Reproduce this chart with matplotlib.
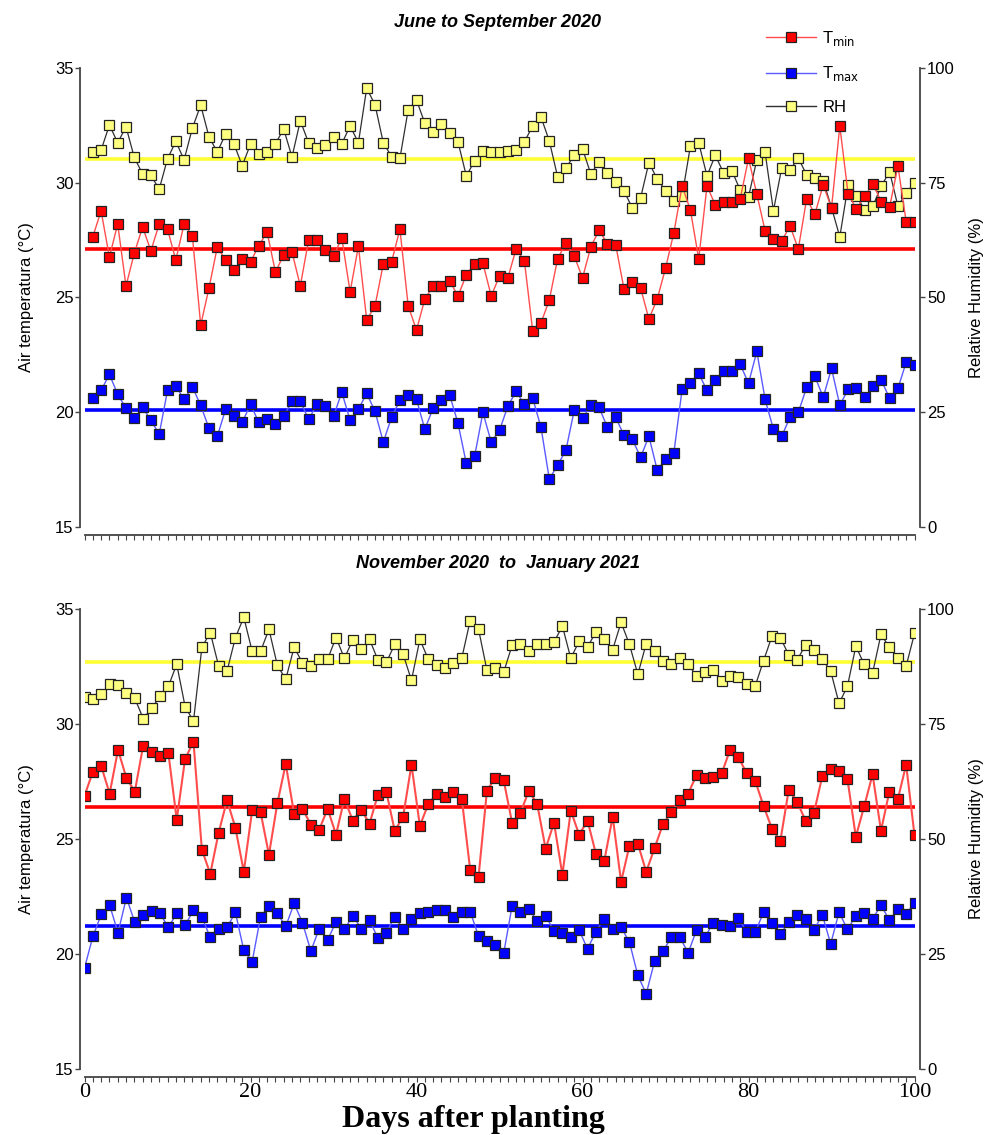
import numpy as np
import matplotlib
matplotlib.use("Agg")
import matplotlib.pyplot as plt
from matplotlib.ticker import MultipleLocator, FixedLocator
from matplotlib.lines import Line2D

# ---------------- data ----------------
# June to September 2020 (days 1..100 after planting)
days_summer = np.arange(1, 101)
tmin_summer = [
    27.65, 28.77, 26.76, 28.20, 25.50, 26.93, 28.07, 27.03, 28.20, 27.98,
    26.63, 28.20, 27.68, 23.80, 25.41, 27.20, 26.63, 26.20, 26.68, 26.55,
    27.26, 27.85, 26.11, 26.85, 26.98, 25.50, 27.50, 27.50, 27.07, 26.81,
    27.59, 25.24, 27.24, 24.02, 24.63, 26.46, 26.55, 27.98, 24.63, 23.58,
    24.93, 25.50, 25.50, 25.72, 25.06, 25.99, 26.46, 26.50, 25.06, 25.94,
    25.85, 27.11, 26.59, 23.54, 23.89, 24.89, 26.68, 27.37, 26.81, 25.85,
    27.20, 27.94, 27.33, 27.29, 25.37, 25.68, 25.41, 24.06, 24.93, 26.27,
    27.81, 29.86, 28.81, 26.68, 29.86, 29.03, 29.16, 29.16, 29.29, 31.06,
    29.51, 27.90, 27.55, 27.46, 28.12, 27.11, 29.29, 28.64, 29.90, 28.90,
    32.47, 29.51, 28.86, 29.42, 29.95, 29.16, 28.94, 30.73, 28.29, 28.29,
]
tmax_summer = [
    20.61, 20.95, 21.65, 20.78, 20.17, 19.73, 20.21, 19.65, 19.04, 20.95,
    21.14, 20.56, 21.10, 20.30, 19.30, 18.95, 20.13, 19.82, 19.56, 20.34,
    19.56, 19.69, 19.47, 19.82, 20.48, 20.48, 19.69, 20.34, 20.26, 19.82,
    20.87, 19.65, 20.13, 20.82, 20.04, 18.70, 19.78, 20.52, 20.74, 20.56,
    19.26, 20.17, 20.52, 20.74, 19.52, 17.77, 18.08, 19.99, 18.70, 19.21,
    20.26, 20.91, 20.34, 20.61, 19.34, 17.09, 17.69, 18.34, 20.08, 19.73,
    20.30, 20.21, 19.34, 19.78, 18.99, 18.82, 18.04, 18.95, 17.48, 17.95,
    18.21, 21.00, 21.26, 21.69, 20.95, 21.39, 21.78, 21.78, 22.09, 21.26,
    22.65, 20.56, 19.26, 18.95, 19.78, 19.99, 21.08, 21.56, 20.65, 21.91,
    20.30, 21.00, 21.04, 20.65, 21.13, 21.39, 20.61, 21.04, 22.18, 22.04,
]
rh_summer = [
    81.7, 82.1, 87.6, 83.7, 87.2, 80.5, 76.9, 76.6, 73.6, 80.2,
    84.0, 80.0, 86.9, 91.9, 85.0, 81.7, 85.6, 83.5, 78.7, 83.4,
    81.3, 81.7, 83.5, 86.7, 80.6, 88.5, 83.7, 82.6, 83.2, 85.0,
    83.5, 87.4, 83.7, 95.6, 92.0, 83.7, 80.7, 80.3, 90.9, 93.0,
    88.0, 86.1, 87.8, 85.8, 83.9, 76.5, 79.7, 81.9, 81.8, 81.6,
    81.9, 82.1, 83.9, 87.4, 89.3, 84.1, 76.3, 78.2, 81.0, 82.4,
    76.9, 79.6, 77.1, 75.2, 73.2, 69.5, 71.7, 79.4, 75.8, 73.3,
    71.0, 72.1, 83.0, 83.7, 76.5, 81.0, 77.1, 77.6, 73.4, 71.9,
    80.0, 81.6, 68.9, 78.2, 77.8, 80.4, 76.7, 76.1, 75.4, 69.6,
    63.2, 74.5, 72.1, 69.1, 70.0, 74.3, 77.4, 69.9, 72.8, 74.9,
]
means_summer = {"tmin": 27.1, "tmax": 20.1, "rh": 80.2}

# November 2020 to January 2021 (100 readings spread over days 0..100)
days_winter = np.linspace(0, 100, 100)
tmin_winter = [
    26.88, 27.93, 28.16, 26.98, 28.88, 27.65, 27.06, 29.06, 28.80, 28.61,
    28.75, 25.84, 28.49, 29.23, 24.54, 23.49, 25.28, 26.69, 25.49, 23.58,
    26.26, 26.17, 24.32, 26.55, 28.27, 26.10, 26.32, 25.62, 25.41, 26.32,
    25.19, 26.75, 25.80, 26.28, 25.67, 26.93, 27.06, 25.36, 25.97, 28.23,
    25.58, 26.51, 26.97, 26.84, 27.06, 26.75, 23.67, 23.36, 27.10, 27.67,
    27.55, 25.71, 26.14, 27.10, 26.51, 24.58, 25.71, 23.45, 26.23, 25.19,
    25.80, 24.36, 24.06, 25.97, 23.14, 24.71, 24.80, 23.58, 24.61, 25.65,
    26.17, 26.71, 26.98, 27.78, 27.64, 27.69, 27.85, 28.88, 28.55, 27.85,
    27.53, 26.43, 25.45, 24.93, 27.14, 26.62, 25.80, 26.12, 27.74, 28.03,
    27.94, 27.61, 25.10, 26.43, 27.81, 25.36, 27.06, 26.72, 28.23, 25.17,
]
tmax_winter = [
    19.39, 20.77, 21.72, 22.12, 20.93, 22.45, 21.38, 21.71, 21.88, 21.77,
    21.16, 21.77, 21.26, 21.90, 21.61, 20.72, 21.11, 21.16, 21.81, 20.17,
    19.67, 21.62, 22.09, 21.77, 21.20, 22.20, 21.36, 20.13, 21.11, 20.61,
    21.40, 21.07, 21.67, 21.11, 21.48, 20.68, 20.93, 21.62, 21.09, 21.51,
    21.77, 21.85, 21.91, 21.91, 21.61, 21.83, 21.85, 20.78, 20.56, 20.39,
    20.04, 22.09, 21.85, 21.98, 21.42, 21.67, 21.00, 20.93, 20.72, 21.04,
    20.22, 20.98, 21.54, 21.09, 21.16, 20.52, 19.07, 18.27, 19.70, 20.12,
    20.74, 20.74, 20.05, 21.04, 20.74, 21.36, 21.28, 21.22, 21.56, 20.95,
    20.95, 21.82, 21.37, 20.87, 21.38, 21.69, 21.51, 21.04, 21.71, 20.44,
    21.82, 21.07, 21.66, 21.78, 21.52, 22.13, 21.47, 21.95, 21.74, 22.22,
]
rh_winter = [
    80.9, 80.4, 81.5, 83.6, 83.4, 81.7, 80.6, 76.2, 78.4, 81.0,
    83.2, 88.0, 78.8, 75.6, 91.7, 94.9, 87.6, 86.5, 93.8, 98.2,
    90.8, 90.8, 95.6, 87.8, 84.7, 91.7, 88.3, 87.6, 89.1, 89.1,
    93.8, 89.3, 93.3, 91.3, 93.4, 88.9, 88.4, 92.3, 90.2, 84.5,
    93.4, 89.1, 87.8, 87.1, 88.2, 89.3, 97.5, 95.6, 86.7, 87.1,
    86.3, 92.1, 92.3, 90.8, 92.5, 92.5, 92.8, 96.3, 89.3, 93.0,
    91.7, 95.1, 93.4, 91.2, 97.1, 92.3, 85.8, 92.5, 90.9, 88.8,
    88.1, 89.3, 88.1, 85.4, 86.3, 86.7, 84.3, 85.4, 85.2, 83.8,
    83.3, 88.8, 94.1, 93.8, 90.0, 88.9, 92.2, 91.2, 89.1, 86.5,
    79.5, 83.2, 91.9, 88.0, 86.1, 94.5, 91.7, 89.3, 87.6, 94.7,
]
means_winter = {"tmin": 26.4, "tmax": 21.2, "rh": 88.5}

temp_ticks = [15, 20, 25, 30, 35]
rh_ticks = [0, 25, 50, 75, 100]
day_ticks = [0, 20, 40, 60, 80, 100]
panel_titles = ["June to September 2020", "November 2020  to  January 2021"]

# ---------------- style ----------------
RED, RED_LINE = "#ff0000", "#ff4d4d"
BLUE, BLUE_LINE = "#0000ff", "#5a5aff"
YEL, YEL_LINE = "#ffff80", "#303030"
EDGE = "#222222"
SPINE = "#444444"
SANS = "Liberation Sans"
SERIF = "Liberation Serif"

fig = plt.figure(figsize=(9.86, 11.35), dpi=100)

ax_rect = {
    0: [0.0857, 0.5357, 0.8418, 0.4044],
    1: [0.0857, 0.0581, 0.8418, 0.4053],
}

# (x, tmin, tmax, rh, means, red line width, blue line width)
panels = [
    (days_summer, tmin_summer, tmax_summer, rh_summer, means_summer, 1.0, 1.0),
    (days_winter, tmin_winter, tmax_winter, rh_winter, means_winter, 1.5, 1.0),
]

mk = dict(marker="s", markersize=6.6, markeredgecolor=EDGE, markeredgewidth=0.9)

for i, (days, tmin, tmax, rh, means, red_lw, blue_lw) in enumerate(panels):
    ax = fig.add_axes(ax_rect[i])
    ax2 = ax.twinx()

    # mean lines
    ax.axhline(means["tmin"], color=RED, lw=2.6, zorder=1)
    ax.axhline(means["tmax"], color=BLUE, lw=2.6, zorder=1)
    ax2.axhline(means["rh"], color="#ffff33", lw=2.6, zorder=1)

    # daily series
    ax2.plot(days, rh, color=YEL_LINE, lw=0.9, markerfacecolor=YEL, zorder=2, **mk)
    ax.plot(days, tmin, color=RED_LINE, lw=red_lw, markerfacecolor=RED, zorder=3, **mk)
    ax.plot(days, tmax, color=BLUE_LINE, lw=blue_lw, markerfacecolor=BLUE, zorder=3, **mk)

    # temperature axes above humidity axes so red/blue marks sit on top
    ax.set_zorder(ax2.get_zorder() + 1)
    ax.patch.set_visible(False)

    ax.set_xlim(0, 100)
    ax.set_ylim(15, 35)
    ax2.set_ylim(0, 100)

    for a in (ax, ax2):
        a.spines["top"].set_visible(False)
        for s in a.spines.values():
            s.set_color(SPINE)
            s.set_linewidth(1.3)
    ax.spines["right"].set_visible(False)
    ax2.spines["left"].set_visible(False)
    ax2.spines["bottom"].set_visible(False)
    ax.spines["left"].set_position(("outward", 3))
    ax2.spines["right"].set_position(("outward", 4))
    ax.spines["bottom"].set_position(("outward", 6))

    ax.yaxis.set_major_locator(FixedLocator(temp_ticks))
    ax2.yaxis.set_major_locator(FixedLocator(rh_ticks))
    ax.tick_params(axis="y", direction="out", length=3.5, width=1.0, color=SPINE,
                   labelsize=12, pad=1.5)
    ax2.tick_params(axis="y", direction="out", length=3.5, width=1.0, color=SPINE,
                    labelsize=12, pad=1.5)
    for lab in ax.get_yticklabels() + ax2.get_yticklabels():
        lab.set_family(SANS)

    ax.xaxis.set_major_locator(FixedLocator(day_ticks))
    ax.xaxis.set_minor_locator(MultipleLocator(1))
    ax.tick_params(axis="x", which="both", direction="out", length=3.5, width=0.8,
                   color=SPINE)
    if i == 0:
        ax.tick_params(axis="x", which="both", labelbottom=False)
    else:
        ax.tick_params(axis="x", labelsize=16, pad=0.5)
        for lab in ax.get_xticklabels():
            lab.set_family(SERIF)

    # panel title and axis titles
    y_top = ax_rect[i][1] + ax_rect[i][3]
    y_mid = ax_rect[i][1] + ax_rect[i][3] / 2
    fig.text(0.505, y_top + 0.0405, panel_titles[i], ha="center", va="center",
             fontsize=13, fontweight="bold", fontstyle="italic", family=SANS)
    fig.text(0.027, y_mid, "Air temperatura (°C)", rotation=90, ha="center",
             va="center", fontsize=12, family=SANS)
    fig.text(0.990, y_mid, "Relative Humidity (%)", rotation=90, ha="center",
             va="center", fontsize=12, family=SANS)

fig.text(0.48, 0.0262, "Days after planting", ha="center", va="top",
         fontsize=23, fontweight="bold", family=SERIF)

# legend
handles = [
    Line2D([], [], color=RED_LINE, lw=1.0, markerfacecolor=RED, **mk),
    Line2D([], [], color=BLUE_LINE, lw=1.0, markerfacecolor=BLUE, **mk),
    Line2D([], [], color=YEL_LINE, lw=1.0, markerfacecolor=YEL, **mk),
]
labels = [r"T$_{\mathrm{min}}$", r"T$_{\mathrm{max}}$", "RH"]
fig.legend(handles, labels, loc="upper left", bbox_to_anchor=(0.768, 0.982),
           frameon=False, numpoints=1, handlelength=3.0, handletextpad=0.4,
           labelspacing=1.0, borderpad=0.0,
           prop={"family": SANS, "size": 12})

fig.savefig("out.png", dpi=100)
